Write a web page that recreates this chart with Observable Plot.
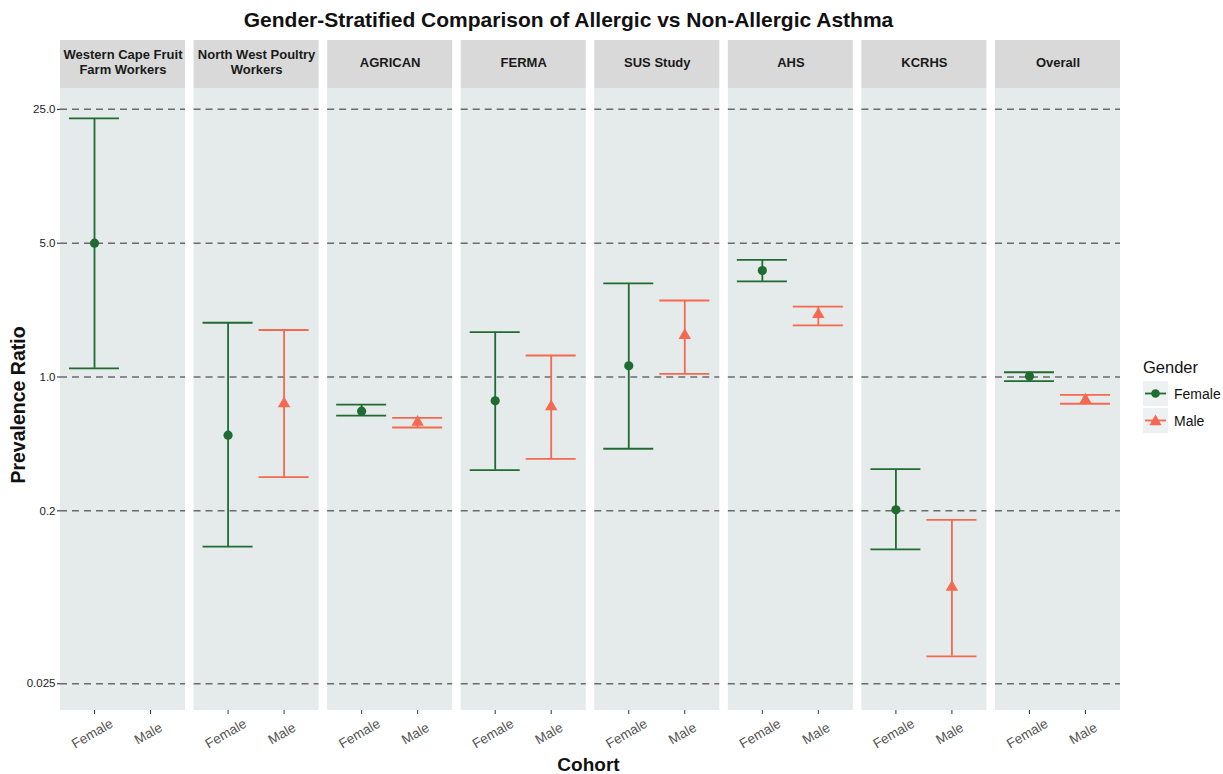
<!DOCTYPE html>
<html><head><meta charset="utf-8">
<script src="https://cdn.jsdelivr.net/npm/d3@7"></script>
<script src="https://cdn.jsdelivr.net/npm/@observablehq/plot@0.6"></script>
<style>
body{margin:0;background:#fff;font-family:"Liberation Sans",Arial,Helvetica,sans-serif;}
#wrap{position:relative;width:1223px;height:774px;overflow:hidden;}
#wrap svg.chart{position:absolute;left:0;top:0;}
.title{position:absolute;left:0;width:1137px;top:8px;line-height:24px;text-align:center;font-weight:bold;font-size:21px;color:#111;}
.ylab{position:absolute;left:-132px;top:394px;width:300px;height:22px;line-height:22px;text-align:center;transform:rotate(-90deg);font-weight:bold;font-size:19.5px;color:#111;white-space:nowrap;}
.xlab{position:absolute;left:0;width:1177px;top:754px;line-height:22px;text-align:center;font-weight:bold;font-size:19px;color:#111;}
.legend{position:absolute;left:1143px;top:357px;}
.legend .lt{font-size:16.5px;color:#111;margin-bottom:3px;line-height:20px;}
.legend .row{display:flex;align-items:center;height:27px;font-size:14px;color:#111;}
.legend .row svg{margin-right:6px;}
</style></head><body><div id="wrap"></div>
<script>
// ---- data ----
const cohorts = ["Western Cape Fruit Farm Workers","North West Poultry Workers","AGRICAN","FERMA","SUS Study","AHS","KCRHS","Overall"];
const cohortLabels = ["Western Cape Fruit\nFarm Workers","North West Poultry\nWorkers","AGRICAN","FERMA","SUS Study","AHS","KCRHS","Overall"];
const genders = ["Female","Male"];
const genderColors = ["#1f6b32","#f4694f"];
const rowCohort = ["Western Cape Fruit Farm Workers","North West Poultry Workers","North West Poultry Workers","AGRICAN","AGRICAN","FERMA","FERMA","SUS Study","SUS Study","AHS","AHS","KCRHS","KCRHS","Overall","Overall"];
const rowGender = ["Female","Female","Male","Female","Male","Female","Male","Female","Male","Female","Male","Female","Male","Female","Male"];
const estimate = [5.0,0.497,0.725,0.663,0.581,0.751,0.701,1.144,1.647,3.60,2.12,0.2025,0.0799,1.01,0.760];
const lower    = [1.11,0.130,0.300,0.629,0.545,0.326,0.374,0.422,1.039,3.16,1.86,0.126,0.0348,0.951,0.725];
const upper    = [22.4,1.92,1.76,0.718,0.612,1.714,1.295,3.08,2.51,4.09,2.33,0.330,0.1796,1.059,0.807];
const yTicks = [0.025,0.2,1,5,25];
const yTickLabels = ["0.025","0.2","1.0","5.0","25.0"];
// scale extents (panel bottom, strip bottom, strip top)
const yBottom = 0.01813, yStripLow = 32.1, yStripHigh = 57.2;

const rows = estimate.map((e,i)=>({cohort: rowCohort[i], gender: rowGender[i], est: e, lo: lower[i], hi: upper[i]}));
const strips = cohorts.map((c,i)=>({cohort:c, label: cohortLabels[i]}));
const combos = cohorts.flatMap(c => genders.map(g => ({cohort:c, gender:g})));

const chart = Plot.plot({
  width: 1223, height: 774,
  marginLeft: 60, marginRight: 103, marginTop: 40, marginBottom: 64,
  style: {fontFamily: '"Liberation Sans", Arial, Helvetica, sans-serif', background: "transparent"},
  fx: {domain: cohorts, paddingInner: 0.064, paddingOuter: 0, round: false, axis: null, label: null},
  x: {type: "band", domain: genders, paddingInner: 0.1, paddingOuter: 0.15, label: null},
  y: {type: "log", domain: [yBottom, yStripHigh], label: null},
  color: {domain: genders, range: genderColors},
  symbol: {domain: genders, range: ["circle","triangle"]},
  marks: [
    Plot.rect(strips, {fx: "cohort", y1: yBottom, y2: yStripLow, fill: "#e5eaea"}),
    Plot.rect(strips, {fx: "cohort", y1: yStripLow, y2: yStripHigh, fill: "#d9d9d9"}),
    Plot.text(strips, {fx: "cohort", y: Math.sqrt(yStripLow*yStripHigh), dy: -2.5, text: "label", fontWeight: "bold", fontSize: 13, lineHeight: 1.1, fill: "#1a1a1a"}),
    Plot.ruleY(yTicks, {stroke: "#6b6b6b", strokeWidth: 1.5, strokeDasharray: "7,5"}),
    Plot.ruleX(rows, {fx: "cohort", x: "gender", y1: "lo", y2: "hi", stroke: "gender", strokeWidth: 1.8}),
    Plot.tickY(rows, {fx: "cohort", x: "gender", y: "hi", stroke: "gender", strokeWidth: 1.8}),
    Plot.tickY(rows, {fx: "cohort", x: "gender", y: "lo", stroke: "gender", strokeWidth: 1.8}),
    Plot.dot(rows, {fx: "cohort", x: "gender", y: "est", symbol: "gender", fill: "gender", stroke: "none", r: 4.6}),
    Plot.axisY(yTicks, {tickFormat: d => yTickLabels[yTicks.indexOf(d)], tickSize: 3, tickPadding: 2, fontSize: 11.5, color: "#222", label: null}),
    Plot.axisX({tickSize: 4, tickFormat: () => "", color: "#333", label: null}),
    Plot.text(combos, {fx: "cohort", x: "gender", text: "gender", frameAnchor: "bottom", dy: 27, rotate: -30, fontSize: 13.5, fill: "#555"})
  ]
});
chart.classList.add("chart");
const wrap = document.getElementById("wrap");
wrap.appendChild(chart);

function addDiv(cls, html){ const d=document.createElement("div"); d.className=cls; d.innerHTML=html; wrap.appendChild(d); return d; }
addDiv("title","Gender-Stratified Comparison of Allergic vs Non-Allergic Asthma");
addDiv("ylab","Prevalence Ratio");
addDiv("xlab","Cohort");
const sym = {
  circle: '<circle cx="12.5" cy="12.5" r="4.3"/>',
  triangle: '<path d="M12.5,6.6 L18.6,17.3 L6.4,17.3 Z"/>'
};
const legendRows = genders.map((g,i)=>{
  const c = genderColors[i];
  const shape = i===0 ? sym.circle : sym.triangle;
  return `<div class="row"><svg width="25" height="25"><rect width="25" height="25" fill="#eef1f1"/><line x1="2" x2="23" y1="12.5" y2="12.5" stroke="${c}" stroke-width="1.8"/><g fill="${c}">${shape}</g></svg>${g}</div>`;
}).join("");
addDiv("legend", `<div class="lt">Gender</div>${legendRows}`);
</script>
</body></html>
